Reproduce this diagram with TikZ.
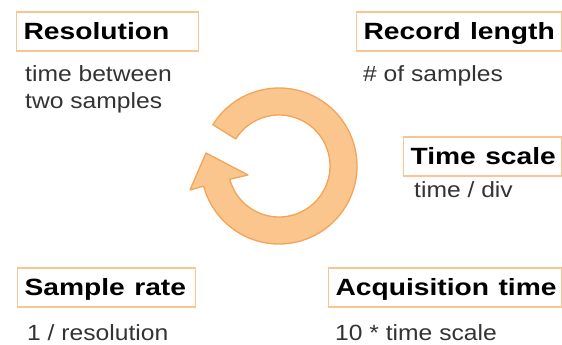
\documentclass[tikz,border=0pt]{standalone}
\usepackage{fontspec}
\setmainfont{Liberation Sans}
\usetikzlibrary{calc}
\definecolor{boxorange}{RGB}{250,196,148}
\definecolor{ringfill}{RGB}{251,197,142}
\definecolor{ringline}{RGB}{242,164,88}
\newcommand{\wide}[1]{\scalebox{1.2}[1]{#1}}
\newcommand{\dwide}[1]{\scalebox{1.12}[1]{#1}}
\tikzset{
  titlebox/.style={draw=boxorange, line width=1.2pt, anchor=base west,
    font=\fontsize{23.5}{26}\bfseries\selectfont, text height=18pt, text depth=1pt,
    inner ysep=10pt, inner xsep=7pt, align=left},
  desc/.style={anchor=base west, inner sep=0pt,
    font=\fontsize{22}{26}\selectfont, text=black!80},
  ring/.style={fill=ringfill, draw=ringline, line width=1.3pt, line join=round}
}
\begin{document}
\begin{tikzpicture}[x=1pt,y=1pt]
\useasboundingbox (0,0) rectangle (562,345);
% titles
\node[titlebox, text width=168pt] (res) at (16,305) {\wide{Resolution}};
\node[titlebox, text width=191pt] (rec) at (356,305) {\wide{Record length}};
\node[titlebox, text width=144pt] (tsc) at (403,180) {\wide{Time scale}};
\node[titlebox, text width=164pt] (srt) at (17,49) {\wide{Sample rate}};
\node[titlebox, text width=219pt] (acq) at (328,49) {\wide{Acquisition time}};
% descriptions
\node[desc] (resd1) at (25,263) {\dwide{time between}};
\node[desc] (resd2) at (25,236) {\dwide{two samples}};
\node[desc] (recd) at (363,263) {\dwide{\# of samples}};
\node[desc] (tscd) at (414,147) {\dwide{time / div}};
\node[desc] (srtd) at (27,4) {\dwide{1 / resolution}};
\node[desc] (acqd) at (335,4) {\dwide{10 * time scale}};
% circular arrow
\coordinate (C) at (279,179);
\coordinate (aout) at (190,155);
\coordinate (atip) at (206,192);
\coordinate (ain) at (248,170);
\draw[ring] ($(C)+(148:78)$) arc[start angle=148, end angle=-165, radius=78]
  -- (aout) -- (atip) -- (ain) -- ($(C)+(-165:51)$)
  arc[start angle=-165, end angle=148, radius=51] -- cycle;
\end{tikzpicture}
\end{document}
